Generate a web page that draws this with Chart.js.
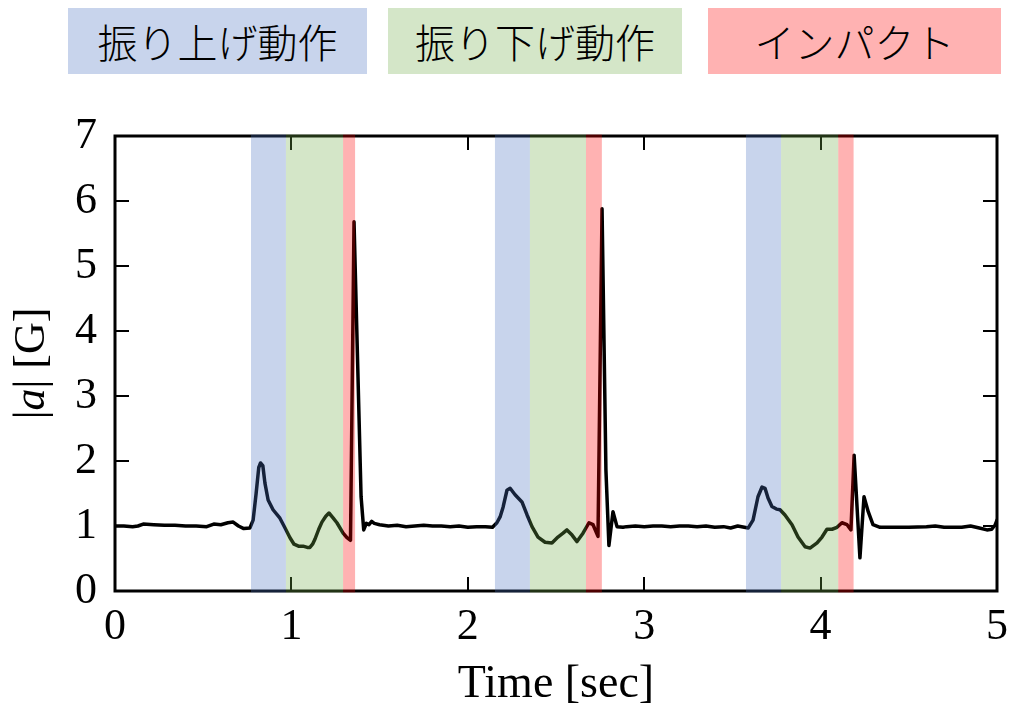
<!DOCTYPE html>
<html lang="ja">
<head>
<meta charset="utf-8">
<title>|a| [G]</title>
<script src="https://cdn.jsdelivr.net/npm/chart.js@4/dist/chart.umd.min.js"></script>
<style>
  html, body { margin: 0; padding: 0; background: #fff; }
  #wrap { position: relative; width: 1012px; height: 713px; }
  #myChart { position: absolute; left: 0; top: 0; }
  .fase {
    position: absolute; top: 8px; height: 66px;
    display: flex; align-items: center; justify-content: center;
    font-family: "Noto Sans CJK JP", sans-serif; font-weight: 300;
    font-size: 40px; color: #000; letter-spacing: 0;
  }
  #fase0 { left: 68px; width: 299px; background: #c8d4ec; }
  #fase1 { left: 388px; width: 294px; background: #d4e6c8; }
  #fase2 { left: 708px; width: 293px; background: #ffb2b2; }
</style>
</head>
<body>
<div id="wrap">
  <div class="fase" id="fase0"></div>
  <div class="fase" id="fase1"></div>
  <div class="fase" id="fase2"></div>
  <canvas id="myChart" width="1012" height="713"></canvas>
</div>
<script>
// datos: aceleración |a| en G vs tiempo en segundos
const tiempo = [
  0.00, 0.05, 0.10, 0.13, 0.16, 0.22, 0.28, 0.34, 0.40, 0.46, 0.52, 0.56, 0.60, 0.64, 0.67, 0.70, 0.73, 0.765,
  0.783, 0.800, 0.815, 0.825, 0.838, 0.850, 0.868, 0.896, 0.935, 0.964, 0.992, 1.015, 1.040, 1.066, 1.090, 1.105,
  1.120, 1.134, 1.155, 1.173, 1.195, 1.213, 1.235, 1.258, 1.293, 1.315, 1.335, 1.355, 1.395, 1.410, 1.425, 1.440,
  1.455, 1.470, 1.500,
  1.55, 1.60, 1.65, 1.70, 1.75, 1.80, 1.85, 1.90, 1.95, 2.00, 2.05, 2.10, 2.14,
  2.165, 2.183, 2.200, 2.222, 2.240, 2.268, 2.307, 2.336, 2.364, 2.398, 2.438, 2.477, 2.511, 2.540, 2.562, 2.591,
  2.619, 2.653, 2.687, 2.710, 2.738, 2.761, 2.783, 2.800, 2.823, 2.846, 2.88,
  2.90, 2.95, 3.00, 3.05, 3.10, 3.15, 3.20, 3.25, 3.30, 3.35, 3.40, 3.45, 3.49, 3.53, 3.59,
  3.617, 3.645, 3.668, 3.685, 3.702, 3.724, 3.750, 3.770, 3.798, 3.838, 3.872, 3.912, 3.940, 3.980, 4.008, 4.036,
  4.065, 4.093, 4.121, 4.150, 4.172, 4.190, 4.223, 4.246, 4.270, 4.297, 4.337,
  4.40, 4.50, 4.60, 4.65, 4.70, 4.80, 4.85, 4.90, 4.943, 4.97, 4.99, 5.00
];
const aceleracion = [
  1.00, 1.00, 0.99, 1.00, 1.03, 1.02, 1.01, 1.01, 1.00, 1.00, 0.99, 1.03, 1.02, 1.05, 1.06, 1.00, 0.96, 0.97,
  1.09, 1.50, 1.90, 1.97, 1.93, 1.66, 1.40, 1.25, 1.12, 0.97, 0.82, 0.72, 0.69, 0.69, 0.67, 0.67,
  0.72, 0.80, 0.95, 1.06, 1.15, 1.20, 1.13, 1.05, 0.89, 0.82, 0.78, 5.68, 1.45, 0.94, 1.04, 1.02,
  1.07, 1.04, 1.02,
  1.00, 1.01, 0.99, 1.00, 1.01, 1.00, 1.00, 0.99, 1.00, 0.98, 0.99, 0.99, 0.98,
  1.05, 1.14, 1.29, 1.55, 1.58, 1.48, 1.37, 1.17, 0.99, 0.83, 0.75, 0.74, 0.83, 0.89, 0.94, 0.86,
  0.76, 0.89, 1.05, 1.02, 0.84, 5.88, 1.86, 0.70, 1.22, 0.99, 0.98,
  0.99, 1.00, 0.99, 1.00, 1.00, 0.99, 1.00, 1.00, 0.99, 1.00, 0.98, 0.99, 0.97, 1.00, 0.97,
  1.09, 1.45, 1.60, 1.58, 1.43, 1.30, 1.26, 1.25, 1.17, 1.02, 0.83, 0.68, 0.66, 0.74, 0.83, 0.95,
  0.95, 0.98, 1.05, 1.02, 0.94, 2.09, 0.51, 1.45, 1.22, 1.02, 0.98,
  0.98, 0.98, 0.99, 1.00, 0.98, 0.98, 1.00, 0.97, 0.94, 0.95, 1.02, 1.09
];

// fases del swing (inicio, fin) en segundos
const fases = ["振り上げ動作", "振り下げ動作", "インパクト"];
const subida = [[0.771, 0.969], [2.154, 2.352], [3.577, 3.776]];
const bajada = [[0.969, 1.293], [2.352, 2.670], [3.776, 4.100]];
const impacto = [[1.293, 1.361], [2.670, 2.760], [4.100, 4.187]];

const coloresFase = ["rgba(72,112,192,0.3)", "rgba(112,172,72,0.3)", "rgba(255,0,0,0.3)"];
const tramos = [subida, bajada, impacto];

fases.forEach((txt, i) => {
  document.getElementById("fase" + i).textContent = txt;
});

const fuente = "'Liberation Serif', 'Times New Roman', serif";

// marco y ticks hacia adentro en los cuatro lados
const marco = {
  id: "marco",
  beforeDatasetsDraw(chart) {
    const { ctx, chartArea: a, scales: { x, y } } = chart;
    const largo = 14;
    ctx.save();
    ctx.strokeStyle = "#000";
    ctx.lineWidth = 2;
    ctx.beginPath();
    x.ticks.forEach(t => {
      const px = Math.round(x.getPixelForValue(t.value));
      ctx.moveTo(px, a.bottom); ctx.lineTo(px, a.bottom - largo);
      ctx.moveTo(px, a.top); ctx.lineTo(px, a.top + largo);
    });
    y.ticks.forEach(t => {
      const py = Math.round(y.getPixelForValue(t.value));
      ctx.moveTo(a.left, py); ctx.lineTo(a.left + largo, py);
      ctx.moveTo(a.right, py); ctx.lineTo(a.right - largo, py);
    });
    ctx.stroke();
    ctx.lineWidth = 3;
    ctx.strokeRect(a.left, a.top, a.right - a.left, a.bottom - a.top);
    ctx.restore();
  }
};

// bandas de color de cada fase, encima de la curva
const bandas = {
  id: "bandas",
  afterDatasetsDraw(chart) {
    const { ctx, chartArea: a, scales: { x } } = chart;
    ctx.save();
    tramos.forEach((lista, i) => {
      ctx.fillStyle = coloresFase[i];
      lista.forEach(([t0, t1]) => {
        const x0 = x.getPixelForValue(t0);
        const x1 = x.getPixelForValue(t1);
        ctx.fillRect(x0, a.top - 1.5, x1 - x0, a.bottom - a.top + 3);
      });
    });
    ctx.restore();
  }
};

// etiqueta del eje y: |a| [G] con la a en cursiva
const etiquetaY = {
  id: "etiquetaY",
  afterDraw(chart) {
    const { ctx, chartArea: a } = chart;
    const partes = [
      { t: "|", f: "44px " + fuente },
      { t: "a", f: "italic 44px " + fuente },
      { t: "|", f: "44px " + fuente },
      { t: " [G]", f: "44px " + fuente }
    ];
    ctx.save();
    let total = 0;
    partes.forEach(p => { ctx.font = p.f; p.w = ctx.measureText(p.t).width; total += p.w; });
    ctx.translate(32, (a.top + a.bottom) / 2);
    ctx.rotate(-Math.PI / 2);
    ctx.fillStyle = "#000";
    ctx.textBaseline = "middle";
    ctx.textAlign = "left";
    let pos = -total / 2;
    partes.forEach(p => { ctx.font = p.f; ctx.fillText(p.t, pos, 0); pos += p.w; });
    ctx.restore();
  }
};

const puntos = tiempo.map((t, i) => ({ x: t, y: aceleracion[i] }));

const config = {
  type: "line",
  data: {
    datasets: [{
      data: puntos,
      borderColor: "#000",
      borderWidth: 3.5,
      borderJoinStyle: "round",
      borderCapStyle: "round",
      pointRadius: 0,
      tension: 0,
      fill: false
    }]
  },
  options: {
    responsive: false,
    animation: false,
    devicePixelRatio: 1,
    layout: { padding: { top: 136, left: 0, right: 15, bottom: 0 } },
    plugins: { legend: { display: false }, tooltip: { enabled: false } },
    scales: {
      x: {
        type: "linear",
        min: 0,
        max: 5,
        ticks: { stepSize: 1, color: "#000", padding: 10, font: { family: fuente, size: 44 } },
        grid: { display: false, drawTicks: false },
        border: { display: false },
        title: { display: true, text: "Time [sec]", color: "#000", padding: { top: 0, bottom: 0 }, font: { family: fuente, size: 46 } },
        afterFit(s) { s.height = 122; s.paddingRight = 0; s.paddingLeft = 0; }
      },
      y: {
        min: 0,
        max: 7,
        ticks: { stepSize: 1, color: "#000", padding: 18, font: { family: fuente, size: 44 } },
        grid: { display: false, drawTicks: false },
        border: { display: false },
        afterFit(s) { s.width = 115; s.paddingTop = 0; s.paddingBottom = 0; }
      }
    }
  },
  plugins: [marco, bandas, etiquetaY]
};

const chart = new Chart(document.getElementById("myChart"), config);
</script>
</body>
</html>
